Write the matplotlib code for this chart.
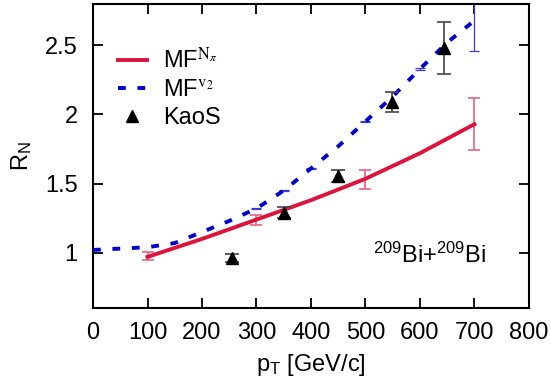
import numpy as np
import matplotlib
matplotlib.use("Agg")
import matplotlib.pyplot as plt
from matplotlib.font_manager import FontProperties

plt.rcParams['font.family'] = ['Liberation Sans', 'DejaVu Sans']
plt.rcParams['mathtext.fontset'] = 'custom'
plt.rcParams['mathtext.rm'] = 'Liberation Sans'
plt.rcParams['mathtext.it'] = 'Liberation Sans'

# MF with N_pi fit (red)
mf_n_x = [100, 200, 300, 400, 500, 600, 700]
mf_n_y = [0.97, 1.10, 1.24, 1.38, 1.535, 1.72, 1.93]
mf_n_err_x = [100, 300, 500, 700]
mf_n_err_y = [0.975, 1.24, 1.53, 1.93]
mf_n_err = [0.03, 0.036, 0.07, 0.19]

# MF with v2 fit (blue dashed)
mf_v_x = [0, 50, 100, 150, 200, 250, 300, 350, 400, 450, 500, 550, 600, 650, 700]
mf_v_y = [1.02, 1.03, 1.04, 1.07, 1.15, 1.23, 1.32, 1.45, 1.61, 1.77, 1.95, 2.13, 2.33, 2.52, 2.68]
mf_v_err_x = [300, 350, 400, 500, 600, 700]
mf_v_err_y = [1.32, 1.45, 1.61, 1.95, 2.33, 2.68]
mf_v_err = [0.005, 0.005, 0.005, 0.005, 0.005, 0.22]

# KaoS data
kaos_x = [255, 350, 450, 548, 645]
kaos_y = [0.96, 1.29, 1.555, 2.09, 2.48]
kaos_err = [0.03, 0.04, 0.04, 0.07, 0.19]

fig = plt.figure(figsize=(5.51, 3.87), dpi=100)
ax = fig.add_axes([0.1688, 0.204, 0.7912, 0.786])

red = '#dc143c'
blue = '#0000cc'

ax.errorbar(mf_n_err_x, mf_n_err_y, yerr=mf_n_err, fmt='none', ecolor='#e8637d',
            elinewidth=1.2, capsize=4, capthick=1.2, zorder=2)
ax.plot(mf_n_x, mf_n_y, color=red, lw=2.8, label=r'MF$^{\mathrm{N}_{\pi}}$', zorder=3)

ax.errorbar(mf_v_err_x, mf_v_err_y, yerr=mf_v_err, fmt='none', ecolor='#3a3ad0',
            elinewidth=0.9, capsize=3.5, capthick=0.9, ls='--', zorder=2)
ax.plot(mf_v_x, mf_v_y, color=blue, lw=2.8, ls=(0, (2.0, 3.0)),
        label=r'MF$^{\mathrm{v}_2}$', zorder=3)

ax.errorbar(kaos_x, kaos_y, yerr=kaos_err, fmt='^', color='black', ms=8,
            ecolor='#444444', elinewidth=1.2, capsize=5, capthick=1.2, zorder=4)
ax.plot([], [], '^', color='black', ms=8, label='KaoS')

ax.set_xlim(0, 800)
ax.set_ylim(0.6, 2.8)
ax.set_xticks(range(0, 801, 100))
ax.set_yticks([1, 1.5, 2, 2.5])
ax.set_yticklabels(['1', '1.5', '2', '2.5'])
ax.tick_params(direction='in', length=7, width=1.3, labelsize=17,
               top=True, right=True)
ax.tick_params(axis='x', pad=10)
ax.tick_params(axis='y', pad=11)
for s in ax.spines.values():
    s.set_linewidth(1.5)

ax.set_xlabel(r'p$_\mathrm{T}$ [GeV/c]', fontsize=17, labelpad=6)
ax.set_ylabel(r'R$_\mathrm{N}$', fontsize=17, labelpad=8)

ax.text(722, 0.925, r'$^{209}$Bi+$^{209}$Bi', fontsize=17, ha='right', va='baseline')

leg_font = FontProperties(family=['Liberation Sans', 'DejaVu Sans'], size=17,
                          math_fontfamily='stix')
ax.legend(loc='upper left', bbox_to_anchor=(0.02, 0.91), frameon=False,
          prop=leg_font, handlelength=1.2, handletextpad=0.7, labelspacing=0.25,
          borderaxespad=0.3)

fig.savefig('out.png', dpi=100)
